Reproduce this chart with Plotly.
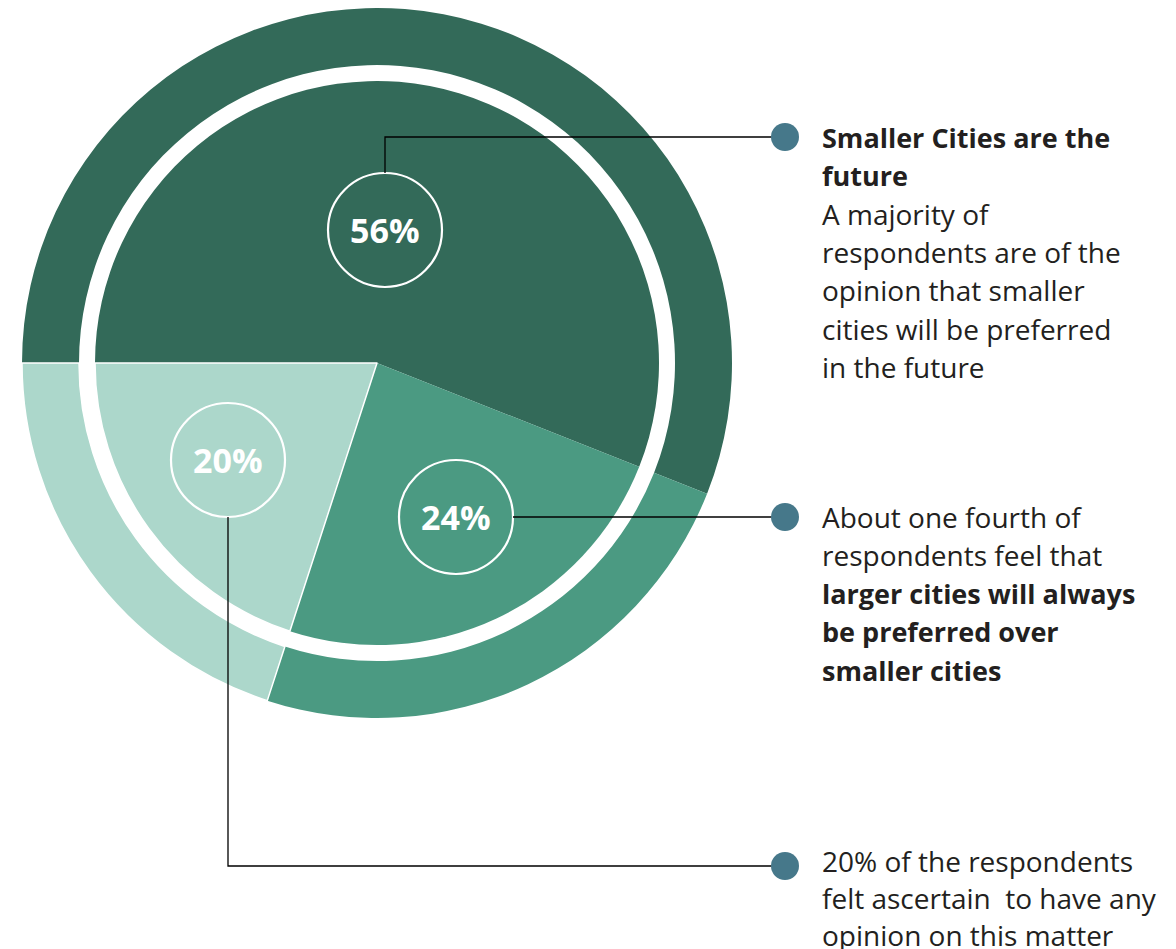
import plotly.graph_objects as go

#----Données----
labels = ["Smaller cities", "Larger cities", "No opinion"]
values = [56, 24, 20]
pct_labels = ["56%", "24%", "20%"]
colors = ["#336a59", "#4b9a82", "#acd7cb"]

# texte des légendes (ligne, gras ?)
text_smaller = [("Smaller Cities are the", True), ("future", True),
                ("A majority of", False), ("respondents are of the", False),
                ("opinion that smaller", False), ("cities will be preferred", False),
                ("in the future", False)]
text_larger = [("About one fourth of", False), ("respondents feel that", False),
               ("larger cities will always", True), ("be preferred over", True),
               ("smaller cities", True)]
text_none = [("20% of the respondents", False), ("felt ascertain\u00a0 to have any", False),
             ("opinion on this matter", False)]

#----Mise en page (pixels de la page)----
W, H = 1176, 949
OFF = 8  # marge du <body> de la page html
CX, CY = 377, 363
R_OUT, R_RING, R_IN = 355, 298, 282
BADGES = [(385, 230), (456, 517), (228, 460)]
BADGE_R = 57
DOT_X, DOT_R = 785, 14
TEXT_X = 820
DOT_COLOR = "#46788a"
TEXT_COLOR = "#231f20"
FONT = "Open Sans"


def dom(r):
    cx, cy = CX - OFF, CY - OFF
    return dict(x=[(cx - r) / W, (cx + r) / W], y=[1 - (cy + r) / H, 1 - (cy - r) / H])


fig = go.Figure()

# anneau extérieur
fig.add_trace(go.Pie(values=values, labels=labels, hole=R_RING / R_OUT, sort=False,
                     direction="clockwise", rotation=-90, domain=dom(R_OUT),
                     marker=dict(colors=colors, line=dict(color="white", width=[0, 0, 1.5])),
                     textinfo="none", hoverinfo="label+percent", showlegend=False))
# camembert intérieur
fig.add_trace(go.Pie(values=values, labels=labels, sort=False,
                     direction="clockwise", rotation=-90, domain=dom(R_IN),
                     marker=dict(colors=colors, line=dict(color="white", width=[0, 0, 1.5])),
                     textinfo="none", hoverinfo="label+percent", showlegend=False))

shapes = []
annotations = []

# pastilles avec pourcentages
for (bx, by), txt in zip(BADGES, pct_labels):
    shapes.append(dict(type="circle", xref="x", yref="y", x0=bx - BADGE_R, x1=bx + BADGE_R,
                       y0=by - BADGE_R, y1=by + BADGE_R, line=dict(color="white", width=2.2)))
    annotations.append(dict(x=bx, y=by, xref="x", yref="y", text="<b>" + txt + "</b>",
                            showarrow=False, font=dict(family=FONT, size=34, color="white")))

# lignes de rappel
y1, y2, y3 = 137, 517, 866
paths = [
    f"M {BADGES[0][0]} {BADGES[0][1] - BADGE_R} L {BADGES[0][0]} {y1} L {DOT_X} {y1}",
    f"M {BADGES[1][0] + BADGE_R} {y2} L {DOT_X} {y2}",
    f"M {BADGES[2][0]} {BADGES[2][1] + BADGE_R} L {BADGES[2][0]} {y3} L {DOT_X} {y3}",
]
for p in paths:
    shapes.append(dict(type="path", xref="x", yref="y", path=p, line=dict(color="black", width=1.3)))

# (ordonnée du point, décalage du texte, interligne, lignes)
blocks = [(y1, 0, 38.3, text_smaller), (y2, 0, 38.3, text_larger), (y3, -5, 37, text_none)]
for yy, dy, lh, block in blocks:
    shapes.append(dict(type="circle", xref="x", yref="y", x0=DOT_X - DOT_R, x1=DOT_X + DOT_R,
                       y0=yy - DOT_R, y1=yy + DOT_R, fillcolor=DOT_COLOR, line=dict(width=0)))
    for i, (line, bold) in enumerate(block):
        annotations.append(dict(x=TEXT_X, y=yy + dy + i * lh, xref="x", yref="y",
                                text=f"<b>{line}</b>" if bold else line,
                                xanchor="left", yanchor="middle", showarrow=False,
                                font=dict(family=FONT, size=27 if bold else 28, color=TEXT_COLOR)))

fig.update_layout(
    width=W, height=H,
    margin=dict(l=0, r=0, t=0, b=0),
    paper_bgcolor="white", plot_bgcolor="white",
    # axes invisibles calés sur les pixels visibles de la page
    xaxis=dict(range=[OFF, W + OFF], visible=False, fixedrange=True),
    yaxis=dict(range=[H + OFF, OFF], visible=False, fixedrange=True),
    shapes=shapes, annotations=annotations,
)

fig.write_html("out.html")
